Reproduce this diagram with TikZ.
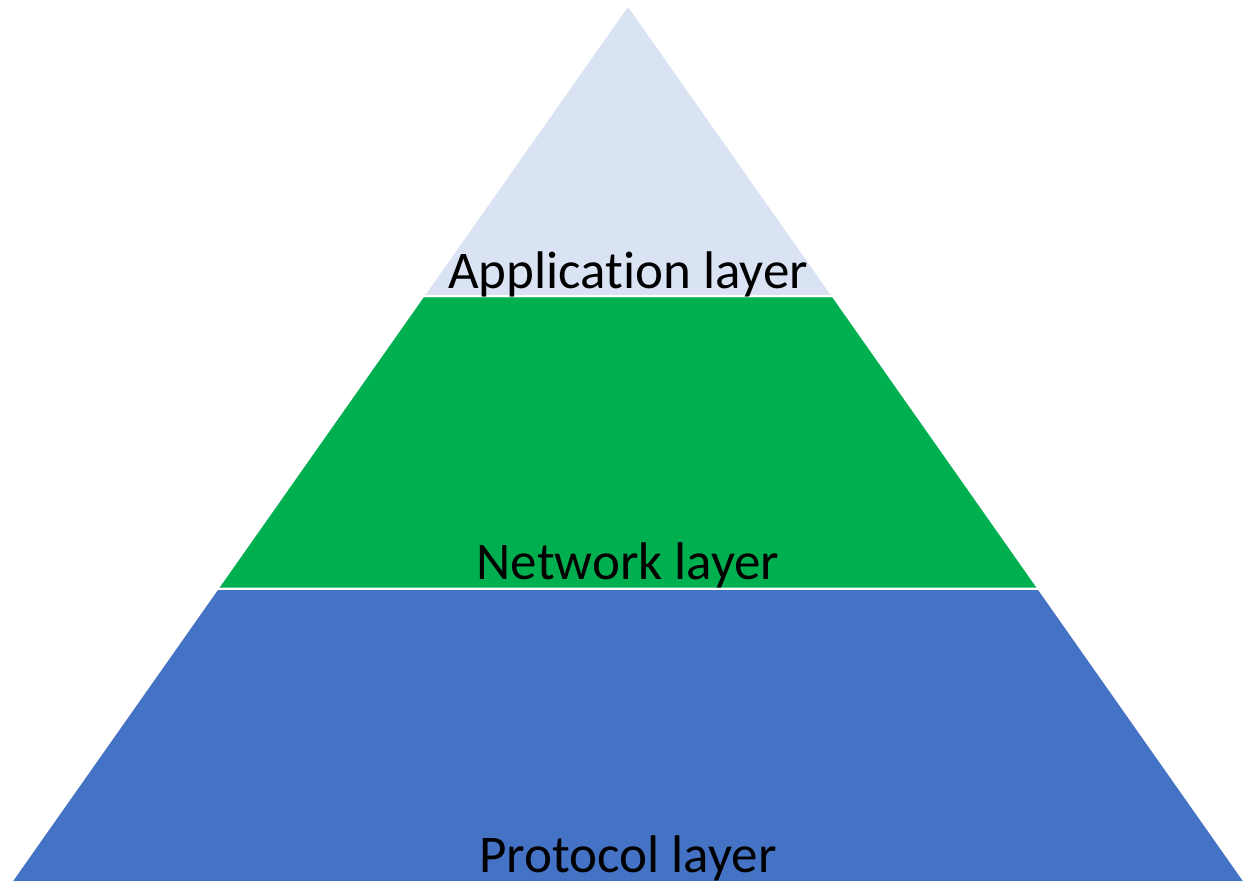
\documentclass[tikz,border=0pt]{standalone}
\usepackage{fontspec}
\setmainfont[Ligatures=NoCommon]{Carlito}
\usepackage{xcolor}
\definecolor{LayerApp}{HTML}{DAE3F3}
\definecolor{LayerNet}{HTML}{00B050}
\definecolor{LayerProto}{HTML}{4472C4}

\begin{document}
\begin{tikzpicture}[
  x=0.5pt, y=-0.5pt,
  every node/.style={font=\fontsize{26.5}{30}\selectfont},
  band/.style={draw=white, line width=1pt},
  bandlabel/.style={anchor=base, inner sep=0pt},
]
\useasboundingbox (0,0) rectangle (1253,880);

% ============ pyramid bands ============
\def\Apex{628}
\fill[band, fill=LayerProto] (217.6,588.5) -- (1038.4,588.5) -- (1247,885) -- (9,885) -- cycle;
\fill[band, fill=LayerNet]   (423.3,296) -- (832.7,296) -- (1038.4,588.5) -- (217.6,588.5) -- cycle;
\fill[band, fill=LayerApp]   (\Apex,5) -- (832.7,296) -- (423.3,296) -- cycle;
\draw[band] (217.6,588.5) -- (1038.4,588.5);
\draw[band] (423.3,296) -- (832.7,296);

% ============ labels ============
\node[bandlabel] (app)   at (\Apex,288) {Application layer};
\node[bandlabel] (net)   at (\Apex,579) {Network layer};
\node[bandlabel] (proto) at (\Apex,872) {Protocol layer};

\end{tikzpicture}
\end{document}
